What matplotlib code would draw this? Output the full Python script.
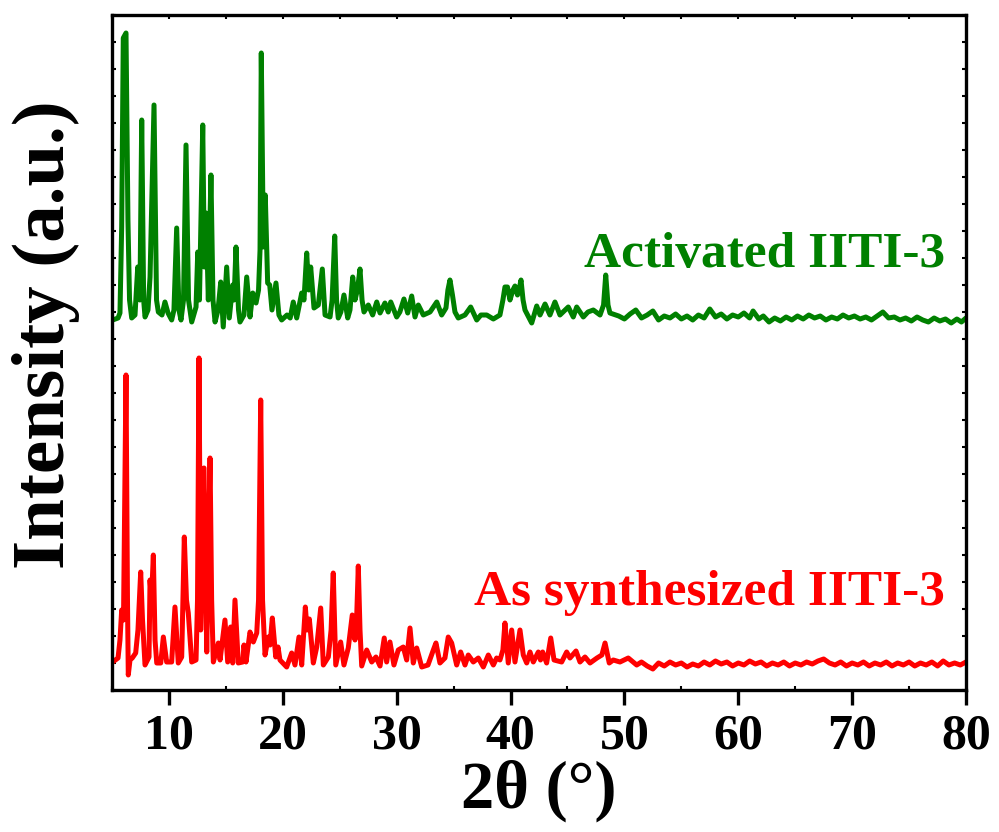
import matplotlib
matplotlib.use("Agg")
import matplotlib.pyplot as plt
from matplotlib.ticker import MultipleLocator, NullFormatter

plt.rcParams['font.family'] = ['Liberation Serif', 'DejaVu Serif']
plt.rcParams['font.weight'] = 'bold'

# ---------------- data (2theta in degrees, intensity in a.u.) ----------------
tt_activated = [
    5.06, 5.53, 5.70, 5.85, 5.99, 6.23, 6.40, 6.54, 6.73, 7.02, 7.26, 7.45, 7.61, 7.78, 7.90,
    8.16, 8.34, 8.69, 8.91, 9.07, 9.39, 9.65, 9.92, 10.24, 10.44, 10.68, 10.88, 11.06, 11.28,
    11.50, 11.72, 12.00, 12.38, 12.53, 12.68, 12.97, 13.11, 13.26, 13.46, 13.69, 13.87, 14.05,
    14.31, 14.55, 14.77, 15.07, 15.30, 15.60, 15.72, 15.89, 16.11, 16.24, 16.59, 16.83, 17.12,
    17.36, 17.65, 17.87, 18.00, 18.11, 18.29, 18.46, 18.67, 18.85, 19.05, 19.40, 19.66, 19.90,
    20.37, 20.65, 20.92, 21.22, 21.66, 21.86, 22.10, 22.28, 22.45, 22.74, 23.12, 23.47, 23.71,
    24.15, 24.33, 24.56, 24.72, 24.87, 25.10, 25.37, 25.70, 25.90, 26.14, 26.34, 26.55, 26.78,
    26.96, 27.13, 27.51, 27.89, 28.25, 28.54, 28.97, 29.26, 29.48, 30.00, 30.28, 30.64, 30.97,
    31.32, 31.61, 31.90, 32.34, 32.93, 33.52, 33.95, 34.33, 34.50, 34.68, 34.90, 35.12, 35.41,
    36.00, 36.50, 37.03, 37.40, 37.91, 38.49, 39.07, 39.33, 39.51, 39.73, 39.95, 40.21, 40.39,
    40.61, 40.74, 40.92, 41.10, 41.27, 41.86, 42.30, 42.59, 43.03, 43.46, 43.90, 44.34, 45.07,
    45.51, 45.81, 46.39, 46.80, 47.27, 47.86, 48.17, 48.36, 48.56, 48.73, 49.50, 50.00, 50.50,
    51.00, 51.50, 52.00, 52.50, 53.00, 53.50, 54.00, 54.50, 55.00, 55.50, 56.00, 56.50, 57.00,
    57.50, 58.00, 58.50, 59.00, 59.50, 60.00, 60.50, 61.00, 61.30, 61.80, 62.20, 62.70, 63.20,
    63.70, 64.20, 64.70, 65.20, 65.70, 66.20, 66.70, 67.20, 67.70, 68.20, 68.70, 69.20, 69.70,
    70.20, 70.70, 71.20, 71.70, 72.20, 72.70, 73.20, 73.70, 74.20, 74.70, 75.20, 75.70, 76.20,
    76.70, 77.20, 77.70, 78.20, 78.70, 79.20, 79.60, 80.00,
]
int_activated = [
    370, 372, 377, 463, 652, 657, 470, 390, 372, 375, 423, 390, 570, 390, 373,
    380, 413, 585, 390, 378, 375, 388, 377, 370, 380, 462, 380, 370, 390,
    545, 390, 368, 383, 438, 390, 565, 423, 477, 390, 515, 390, 368,
    380, 408, 363, 423, 372, 405, 390, 443, 380, 368, 375, 413, 373,
    397, 387, 400, 440, 637, 443, 495, 407, 405, 380, 407, 375, 370,
    375, 372, 388, 372, 397, 390, 437, 400, 423, 382, 385, 421, 375,
    373, 390, 454, 390, 372, 378, 395, 372, 380, 413, 390, 400, 421,
    390, 378, 385, 375, 388, 377, 387, 378, 388, 373, 378, 391, 377,
    394, 373, 385, 375, 378, 388, 375, 382, 400, 410, 395, 378, 372,
    375, 383, 370, 375, 375, 371, 375, 390, 403, 403, 390, 400, 404,
    395, 400, 410, 390, 380, 367, 384, 375, 386, 375, 388, 375, 383,
    373, 383, 373, 378, 380, 375, 385, 415, 385, 377, 374, 371, 376,
    380, 372, 375, 379, 370, 374, 372, 376, 371, 374, 370, 375, 372,
    381, 373, 376, 371, 375, 373, 377, 372, 379, 371, 374, 368, 372,
    369, 373, 370, 374, 371, 375, 372, 374, 370, 373, 371, 375, 372,
    374, 371, 373, 370, 374, 378, 372, 373, 370, 372, 369, 373, 370,
    368, 372, 369, 371, 367, 371, 368, 372,
]

tt_synthesized = [
    5.06, 5.53, 5.70, 5.85, 6.01, 6.23, 6.36, 6.43, 6.58, 6.78, 7.08, 7.28, 7.52, 7.68, 7.90,
    8.25, 8.34, 8.47, 8.63, 8.78, 8.93, 9.28, 9.51, 9.80, 10.24, 10.53, 10.82, 11.12, 11.35,
    11.54, 11.70, 12.00, 12.38, 12.51, 12.64, 12.79, 13.08, 13.20, 13.32, 13.45, 13.61, 13.75,
    13.90, 14.34, 14.49, 14.92, 15.16, 15.42, 15.60, 15.80, 16.09, 16.48, 16.59, 16.77, 17.12,
    17.41, 17.71, 17.87, 18.06, 18.22, 18.44, 18.73, 18.88, 19.08, 19.38, 19.58, 19.75, 20.34,
    20.78, 21.07, 21.42, 21.66, 21.98, 22.13, 22.33, 22.68, 22.98, 23.33, 23.56, 24.00, 24.24,
    24.43, 24.65, 25.08, 25.37, 25.75, 26.10, 26.34, 26.48, 26.63, 26.78, 26.93, 27.37, 27.81,
    28.18, 28.54, 28.91, 29.12, 29.41, 29.76, 30.14, 30.58, 30.88, 31.17, 31.46, 31.76, 32.20,
    32.75, 33.22, 33.45, 33.80, 34.24, 34.53, 34.83, 35.27, 35.62, 36.00, 36.29, 36.73, 37.17,
    37.61, 38.05, 38.49, 38.78, 39.07, 39.33, 39.51, 39.80, 40.10, 40.39, 40.83, 41.12, 41.42,
    41.71, 42.00, 42.44, 42.63, 42.82, 43.17, 43.53, 43.82, 44.49, 44.93, 45.22, 45.75, 46.10,
    46.54, 46.98, 47.59, 48.02, 48.30, 48.67, 49.02, 49.61, 50.34, 51.08, 51.50, 52.00, 52.50,
    53.00, 53.50, 54.00, 54.50, 55.00, 55.50, 56.00, 56.50, 57.00, 57.50, 58.00, 58.50, 59.00,
    59.50, 60.00, 60.50, 61.00, 61.50, 62.00, 62.50, 63.00, 63.50, 64.00, 64.50, 65.00, 65.50,
    66.00, 66.50, 67.00, 67.50, 68.00, 68.50, 69.00, 69.50, 70.00, 70.50, 71.00, 71.50, 72.00,
    72.50, 73.00, 73.50, 74.00, 74.50, 75.00, 75.50, 76.00, 76.50, 77.00, 77.50, 78.00, 78.50,
    79.00, 79.50, 80.00,
]
int_synthesized = [
    28, 32, 50, 80, 70, 315, 90, 15, 30, 32, 37, 60, 118, 70, 25,
    33, 110, 90, 135, 50, 27, 27, 53, 28, 28, 83, 27, 33, 153,
    90, 77, 28, 30, 90, 332, 60, 222, 130, 38, 130, 232, 90,
    28, 47, 30, 70, 28, 63, 27, 90, 27, 28, 45, 28, 58,
    48, 57, 90, 290, 90, 35, 53, 45, 72, 33, 43, 30, 23,
    37, 25, 53, 25, 83, 60, 71, 27, 43, 82, 25, 33, 60,
    117, 25, 48, 25, 42, 75, 50, 70, 124, 60, 24, 40, 28,
    33, 24, 52, 28, 48, 25, 40, 43, 30, 62, 27, 42, 23,
    25, 40, 47, 27, 32, 53, 47, 25, 38, 25, 35, 28, 32,
    23, 35, 25, 32, 30, 40, 67, 27, 60, 28, 60, 35, 27,
    38, 28, 38, 30, 38, 27, 52, 30, 28, 38, 32, 39, 28,
    33, 27, 32, 35, 47, 27, 30, 28, 32, 25, 28, 24, 21,
    27, 24, 28, 25, 27, 23, 26, 24, 28, 25, 29, 26, 28,
    24, 27, 25, 29, 26, 28, 24, 27, 25, 28, 24, 27, 25,
    28, 26, 29, 31, 27, 25, 28, 24, 27, 25, 28, 24, 27,
    25, 28, 24, 27, 25, 28, 24, 27, 25, 28, 24, 29, 25,
    27, 25, 28,
]

labels = ["Activated IITI-3", "As synthesized IITI-3"]
colors = ["#008000", "#ff0000"]

# ---------------- figure ----------------
fig = plt.figure(figsize=(9.99, 8.32), dpi=100)
ax = fig.add_axes([112 / 999, 1 - 690 / 832, (966 - 112) / 999, (690 - 15) / 832])

ax.plot(tt_activated, int_activated, color=colors[0], lw=3.6, solid_joinstyle='round',
        solid_capstyle='round')
ax.plot(tt_synthesized, int_synthesized, color=colors[1], lw=3.6, solid_joinstyle='round',
        solid_capstyle='round')

ax.set_xlim(5, 80)
ax.set_ylim(0, 675)

# text labels
ax.text(78.15, 423, labels[0], color=colors[0], fontsize=37, fontweight='bold',
        ha='right', va='baseline')
ax.text(78.15, 85, labels[1], color=colors[1], fontsize=37, fontweight='bold',
        ha='right', va='baseline')

# spines
for s in ax.spines.values():
    s.set_linewidth(2.4)

# x ticks
ax.xaxis.set_major_locator(MultipleLocator(10))
ax.xaxis.set_minor_locator(MultipleLocator(5))
ax.tick_params(axis='x', which='major', direction='out', length=11, width=2.4,
               labelsize=36, pad=6, top=False)
ax.tick_params(axis='x', which='minor', direction='in', length=3, width=1.5, top=False)
for lab in ax.get_xticklabels():
    lab.set_fontweight('bold')

top = ax.secondary_xaxis('top')
top.xaxis.set_major_locator(MultipleLocator(5))
top.tick_params(direction='in', length=3, width=1.5, labeltop=False)
top.xaxis.set_major_formatter(NullFormatter())

# y ticks (no labels)
ax.yaxis.set_major_locator(MultipleLocator(27))
ax.yaxis.set_major_formatter(NullFormatter())
ax.tick_params(axis='y', which='major', direction='in', length=3, width=1.5,
               left=True, right=True)

ax.set_xlabel("2θ (°)", fontsize=48, fontweight='bold', labelpad=0)
ax.set_ylabel("Intensity (a.u.)", fontsize=54, fontweight='bold')
ax.yaxis.set_label_coords(-0.037, 0.526)

fig.savefig("out.png", dpi=100)
